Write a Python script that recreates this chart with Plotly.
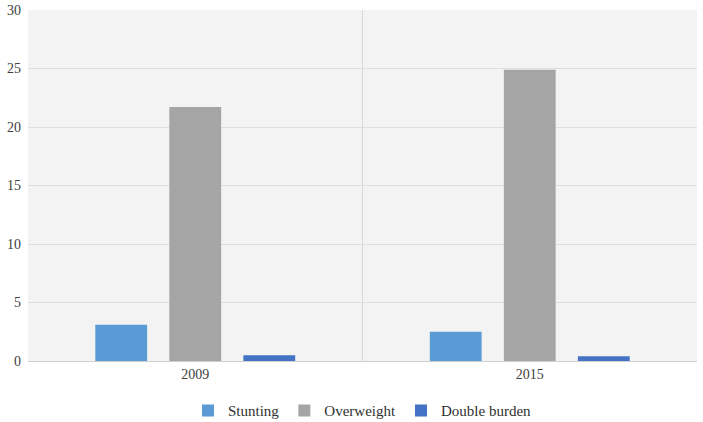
import plotly.graph_objects as go

years = ["2009", "2015"]
stunting = [3.1, 2.5]
overweight = [21.7, 24.9]
double_burden = [0.5, 0.4]

fig = go.Figure()
fig.add_trace(go.Bar(x=years, y=stunting, name="Stunting", marker_color="#5b9bd5"))
fig.add_trace(go.Bar(x=years, y=overweight, name="Overweight", marker_color="#a5a5a5"))
fig.add_trace(go.Bar(x=years, y=double_burden, name="Double burden", marker_color="#4472c4"))
fig.update_traces(marker_line_width=0)

fig.update_layout(
    width=703, height=422,
    margin=dict(l=28, r=6, t=10, b=61, autoexpand=False),
    paper_bgcolor="white",
    plot_bgcolor="#f3f3f3",
    barmode="group",
    bargap=0.336,
    bargroupgap=0.3,
    font=dict(family="Liberation Serif", size=14, color="#404040"),
    legend=dict(orientation="h", x=0.5, xanchor="center", y=-0.095, yanchor="top",
                font=dict(size=15, color="#303030"), itemwidth=30),
    xaxis=dict(tickson="boundaries", showgrid=True, gridcolor="#d9d9d9", gridwidth=1,
               showline=True, linecolor="#d0d0d0", ticks="", ticklen=0),
    yaxis=dict(range=[0, 30], dtick=5, showgrid=True, gridcolor="#dedede", gridwidth=1,
               zeroline=False, showline=False, ticks="", ticklabelstandoff=6),
)

# drop the default 8px page margin so the figure fills the window
fig.write_html("out.html", config={"displayModeBar": False},
               post_script="document.body.style.margin='0';")
